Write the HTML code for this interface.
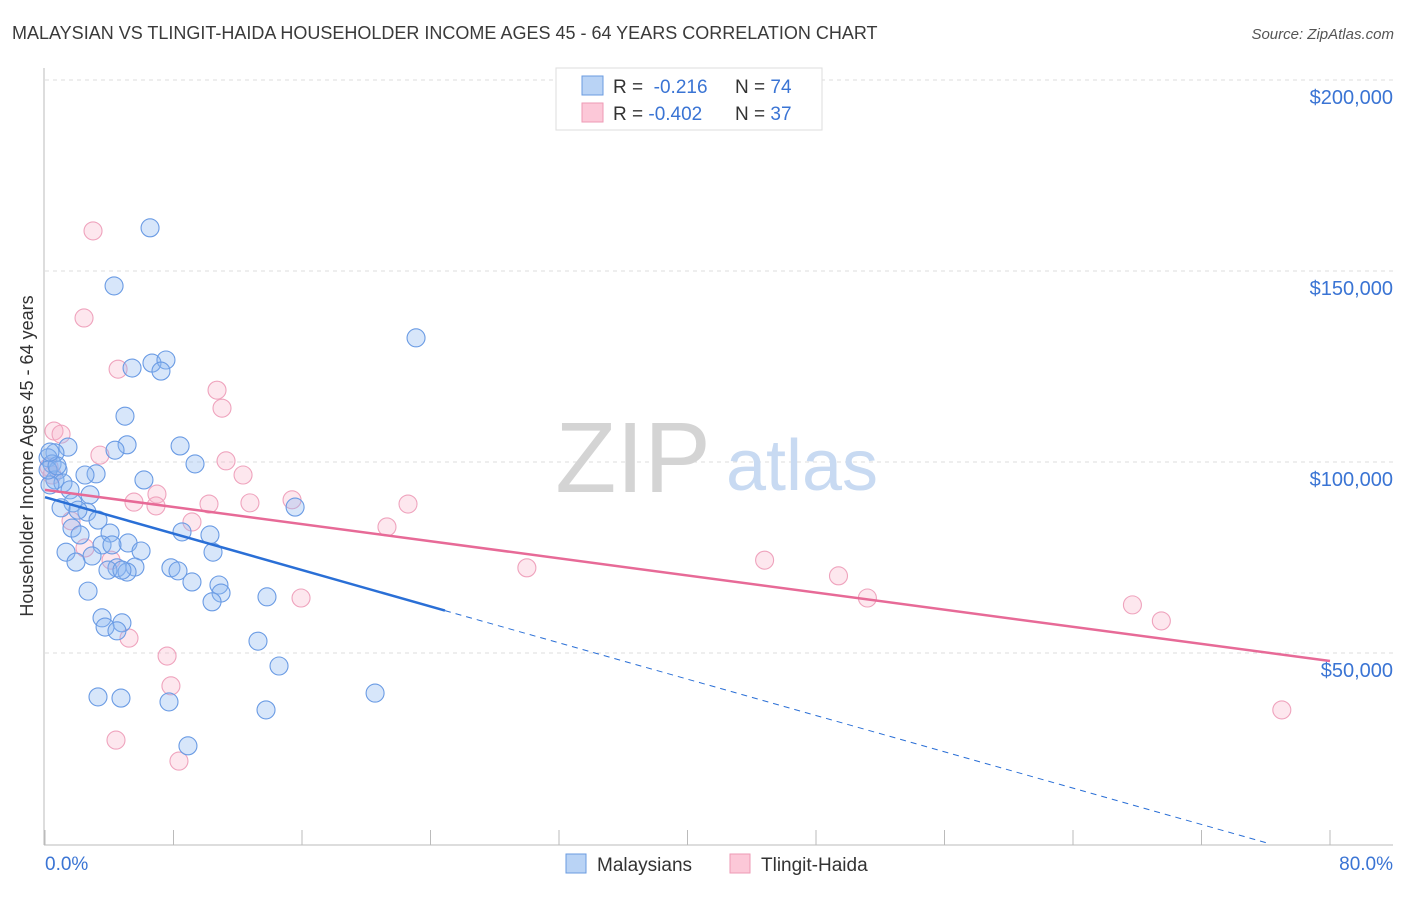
<!DOCTYPE html>
<html><head><meta charset="utf-8"><style>
body{margin:0;background:#fff;font-family:"Liberation Sans",sans-serif}
svg text{font-family:"Liberation Sans",sans-serif}
</style></head><body>
<svg id="chart" width="1406" height="892" viewBox="0 0 1406 892" xmlns="http://www.w3.org/2000/svg">
<text x="12" y="39" font-size="18" fill="#3a3a3a">MALAYSIAN VS TLINGIT-HAIDA HOUSEHOLDER INCOME AGES 45 - 64 YEARS CORRELATION CHART</text>
<text x="1394" y="39" font-size="15" fill="#555" font-style="italic" text-anchor="end">Source: ZipAtlas.com</text>
<g id="grid"></g>
<g>
<text x="633" y="492" font-size="100" fill="#d4d4d4" font-family="Liberation Serif" text-anchor="middle">ZIP</text>
<text x="802" y="490" font-size="72" fill="#c8daf2" text-anchor="middle">atlas</text>
</g>
<line x1="44" y1="68" x2="44" y2="845" stroke="#bbb"/>
<line x1="44" y1="845" x2="1393" y2="845" stroke="#bbb"/>
<g id="ticks"></g>
<g id="ylabels"></g>
<text x="45" y="870" font-size="19" fill="#3a74d4">0.0%</text>
<text x="1393" y="870" font-size="19" fill="#3a74d4" text-anchor="end">80.0%</text>
<text transform="translate(33,456) rotate(-90)" font-size="18" fill="#333" text-anchor="middle">Householder Income Ages 45 - 64 years</text>
<g id="pink"></g>
<g id="blue"></g>
<g id="trends"></g>
<g>
<rect x="556" y="68" width="266" height="62" fill="#fff" stroke="#ddd"/>
<rect x="582" y="76" width="21" height="19" fill="#b9d3f5" stroke="#6a9be0"/>
<rect x="582" y="103" width="21" height="19" fill="#fcc8d8" stroke="#ee9ab5"/>
<text x="613" y="93" font-size="19" fill="#333">R = <tspan fill="#3a74d4">&#160;-0.216</tspan><tspan x="735">N = </tspan><tspan fill="#3a74d4">74</tspan></text>
<text x="613" y="120" font-size="19" fill="#333">R = <tspan fill="#3a74d4">-0.402</tspan><tspan x="735">N = </tspan><tspan fill="#3a74d4">37</tspan></text>
</g>
<g>
<rect x="566" y="854" width="20" height="19" fill="#b9d3f5" stroke="#6a9be0"/>
<text x="597" y="871" font-size="19" fill="#333">Malaysians</text>
<rect x="730" y="854" width="20" height="19" fill="#fcc8d8" stroke="#ee9ab5"/>
<text x="761" y="871" font-size="19" fill="#333">Tlingit-Haida</text>
</g>
</svg>
<script>
const yTicks=[50000,100000,150000,200000];
const yTickLabels=["$50,000","$100,000","$150,000","$200,000"];
const xTicks=[0,8,16,24,32,40,48,56,64,72,80];
const blueX=[6.54,4.30,23.1,6.66,7.53,7.22,5.42,4.98,5.11,4.36,8.41,1.43,0.62,0.19,0.44,0.81,9.34,3.18,2.49,0.62,6.16,1.12,0.31,1.56,2.80,1.74,1.0,15.57,2.61,2.05,3.30,1.68,2.18,4.05,8.53,10.27,5.17,3.55,4.17,5.98,1.31,10.46,2.93,1.93,5.60,4.48,3.92,7.84,8.28,5.11,4.79,10.83,9.15,2.68,10.96,10.40,13.82,3.55,4.79,3.74,4.48,13.26,14.57,3.30,4.73,20.55,7.72,13.76,8.90,0.19,0.75,0.31];
const blueY=[161300,146100,132500,125900,126700,123800,124600,112000,104500,103100,104200,103900,102400,101100,99500,97900,99500,96900,96600,95300,95300,94500,94000,92700,91400,89300,88000,88200,86900,87400,84800,82700,80900,81400,81700,80900,78800,78300,78300,76700,76400,76400,75400,73800,72500,72300,71700,72300,71500,71200,71700,67800,68600,66200,65700,63400,64700,59200,57900,56800,55800,53100,46600,38500,38200,39500,37200,35100,25700,97900,99000,102600];
const pinkX=[2.99,2.43,4.55,0.56,1.0,10.71,11.02,3.42,11.27,12.33,0.25,0.44,15.38,6.97,5.54,6.91,10.21,12.76,22.6,9.15,21.29,1.62,2.49,4.11,30.0,44.8,49.4,51.2,15.94,5.23,7.6,7.84,4.42,8.34,67.7,69.5,77.0];
const pinkY=[160500,137700,124300,108100,107300,118800,114100,101800,100300,96600,98700,96600,90100,91600,89500,88500,89000,89300,89000,84300,83000,84600,77500,74300,72300,74300,70200,64400,64400,53900,49200,41400,27200,21700,62600,58400,35100];
const blueTrend=[[0,90800],[24.9,61100],[76.3,0]];
const pinkTrend=[[0,92700],[80,47900]];
const NS="http://www.w3.org/2000/svg";
const sx=v=>45+v/80*1285;
const sy=v=>844-v/50000*191;
function mk(tag,attrs,parent){const e=document.createElementNS(NS,tag);for(const k in attrs)e.setAttribute(k,attrs[k]);parent.appendChild(e);return e;}
const grid=document.getElementById('grid'),yl=document.getElementById('ylabels'),tk=document.getElementById('ticks');
yTicks.forEach((t,i)=>{
 const l=mk('line',{x1:45,x2:1393,y1:sy(t),y2:sy(t),stroke:'#ddd','stroke-dasharray':'4 4'},grid);
 
 
 const tx=mk('text',{x:1393,y:sy(t)+24,'font-size':20,fill:'#3a74d4','text-anchor':'end'},yl);
 tx.textContent=yTickLabels[i];
 
 
});
xTicks.forEach(t=>{
 const l=mk('line',{x1:sx(t),x2:sx(t),y1:830,y2:845,stroke:'#bbb'},tk);
 
 
});
function pts(xs,ys,g,fill,stroke,name){
 xs.forEach((x,i)=>{
  const c=mk('circle',{cx:sx(x),cy:sy(ys[i]),r:9,fill:fill,stroke:stroke,'stroke-width':1.1},g);
  
  
 });
}
pts(pinkX,pinkY,document.getElementById('pink'),'rgba(248,175,200,0.3)','#efa3bd','tlingit-haida-point');
pts(blueX,blueY,document.getElementById('blue'),'rgba(140,182,240,0.35)','#6a9be4','malaysian-point');
const tr=document.getElementById('trends');
const b1=mk('line',{x1:sx(blueTrend[0][0]),y1:sy(blueTrend[0][1]),x2:sx(blueTrend[1][0]),y2:sy(blueTrend[1][1]),stroke:'#2a6fd6','stroke-width':2.5},tr);


const b2=mk('line',{x1:sx(blueTrend[1][0]),y1:sy(blueTrend[1][1]),x2:sx(blueTrend[2][0]),y2:sy(blueTrend[2][1]),stroke:'#2a6fd6','stroke-width':1,'stroke-dasharray':'6 5'},tr);


const p1=mk('line',{x1:sx(pinkTrend[0][0]),y1:sy(pinkTrend[0][1]),x2:sx(pinkTrend[1][0]),y2:sy(pinkTrend[1][1]),stroke:'#e76a97','stroke-width':2.5},tr);


</script>
</body></html>
